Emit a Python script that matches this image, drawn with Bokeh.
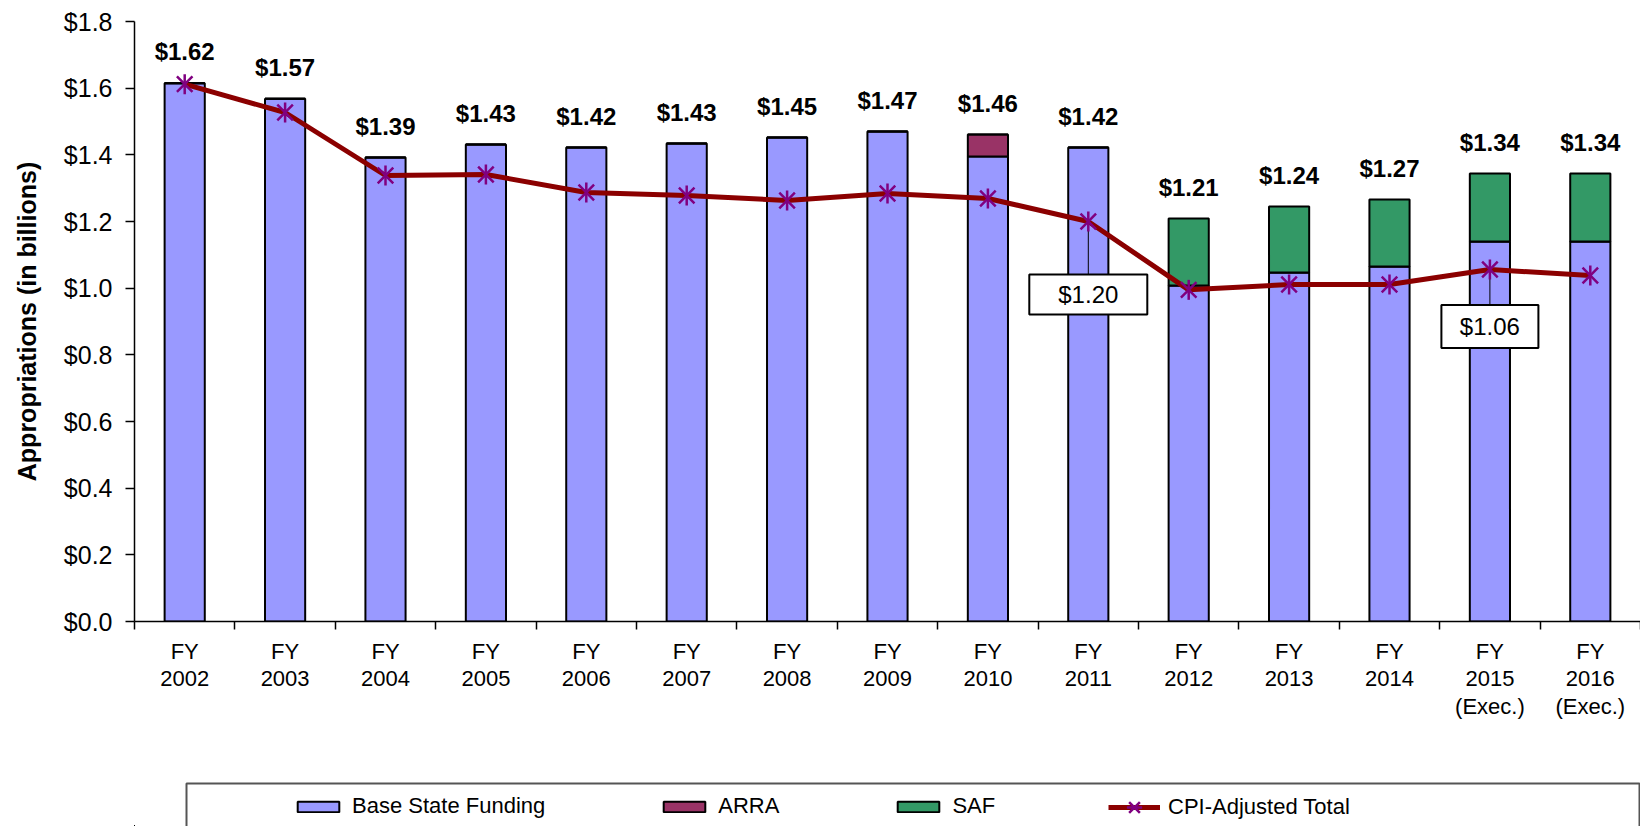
import math
from bokeh.plotting import figure
from bokeh.layouts import column
from bokeh.models import (ColumnDataSource, Range1d, FixedTicker, NumeralTickFormatter,
                          LabelSet, Legend, LegendItem)
from bokeh.core.properties import value
from bokeh.embed import file_html
from bokeh.resources import INLINE

# ---------------- data ----------------
categories = ["FY\n2002", "FY\n2003", "FY\n2004", "FY\n2005", "FY\n2006", "FY\n2007",
              "FY\n2008", "FY\n2009", "FY\n2010", "FY\n2011", "FY\n2012", "FY\n2013",
              "FY\n2014", "FY\n2015\n(Exec.)", "FY\n2016\n(Exec.)"]
base_state = [1.615, 1.568, 1.392, 1.431, 1.422, 1.434, 1.452, 1.470, 1.395, 1.422,
              1.008, 1.047, 1.065, 1.140, 1.140]
arra = [0.0, 0.0, 0.0, 0.0, 0.0, 0.0, 0.0, 0.0, 0.066, 0.0,
        0.0, 0.0, 0.0, 0.0, 0.0]
saf = [0.0, 0.0, 0.0, 0.0, 0.0, 0.0, 0.0, 0.0, 0.0, 0.0,
       0.201, 0.198, 0.201, 0.204, 0.204]
cpi_adjusted = [1.612, 1.527, 1.338, 1.341, 1.287, 1.278, 1.263, 1.284, 1.269, 1.200,
                0.995, 1.011, 1.011, 1.056, 1.038]
total_labels = [1.62, 1.57, 1.39, 1.43, 1.42, 1.43, 1.45, 1.47, 1.46, 1.42,
                1.21, 1.24, 1.27, 1.34, 1.34]
callout_categories = ["FY\n2011", "FY\n2015\n(Exec.)"]
y_ticks = [0.0, 0.2, 0.4, 0.6, 0.8, 1.0, 1.2, 1.4, 1.6, 1.8]
legend_labels = ["Base State Funding", "ARRA", "SAF", "CPI-Adjusted Total"]

# ---------------- styles ----------------
FONT = "Liberation Sans"
BASE_C, ARRA_C, SAF_C = "#9999FF", "#993366", "#339966"
LINE_C, STAR_C = "#8B0000", "#800080"
W = 1640
MAIN_H = 774
LEG_H = 52
FRAME_LEFT = 134
FRAME_TOP = 21
FRAME_H = 600
Y_MAX = 1.8
PX = FRAME_H / Y_MAX  # pixels per data unit

x = list(range(1, len(categories) + 1))
tops = [b + a + s for b, a, s in zip(base_state, arra, saf)]
src = ColumnDataSource(dict(x=x, base=base_state, arra=arra, saf=saf, cpi=cpi_adjusted,
                            top=tops, label=[f"${v:.2f}" for v in total_labels]))

p = figure(width=W, height=MAIN_H,
           x_range=Range1d(0.5, len(categories) + 0.5), y_range=Range1d(0, Y_MAX),
           output_backend="svg", toolbar_location=None,
           min_border_left=FRAME_LEFT, min_border_right=0, min_border_top=FRAME_TOP,
           min_border_bottom=MAIN_H - FRAME_TOP - FRAME_H,
           background_fill_color="white", border_fill_color="white", outline_line_color=None)
p.xgrid.visible = False
p.ygrid.visible = False

# x axis: labels at centres, ticks at category boundaries
xa = p.xaxis[0]
xa.ticker = FixedTicker(ticks=x, minor_ticks=[v - 0.5 for v in x] + [x[-1] + 0.5])
xa.major_label_overrides = {xi: c for xi, c in zip(x, categories)}
xa.major_tick_out = 0
xa.major_tick_in = 0
xa.minor_tick_out = 8
xa.minor_tick_in = 0
xa.minor_tick_line_color = "black"
xa.minor_tick_line_width = 1.5
xa.axis_line_color = "black"
xa.axis_line_width = 1.5
xa.major_label_standoff = 9
xa.major_label_text_font = FONT
xa.major_label_text_font_size = "22px"
xa.major_label_text_color = "black"
xa.major_label_text_line_height = 1.1

ya = p.yaxis[0]
ya.ticker = FixedTicker(ticks=y_ticks, minor_ticks=[])
ya.formatter = NumeralTickFormatter(format="$0.0")
ya.major_tick_out = 9
ya.major_tick_in = 0
ya.minor_tick_out = 0
ya.minor_tick_in = 0
ya.major_tick_line_color = "black"
ya.major_tick_line_width = 1.5
ya.axis_line_color = "black"
ya.axis_line_width = 1.5
ya.major_label_standoff = 13
ya.major_label_text_font = FONT
ya.major_label_text_font_size = "25px"
ya.major_label_text_color = "black"
ya.axis_label = "Appropriations (in billions)"
ya.axis_label_text_font = FONT
ya.axis_label_text_font_size = "25px"
ya.axis_label_text_font_style = "bold"
ya.axis_label_text_color = "black"
ya.axis_label_standoff = 20

# stacked bars
bar_kw = dict(x="x", width=0.4, fill_color=[BASE_C, ARRA_C, SAF_C], line_color="black",
              line_width=2)
p.vbar_stack(["base", "arra", "saf"], source=src, **bar_kw)

# callout leader lines
ci = [categories.index(c) for c in callout_categories]
c_x = [x[i] for i in ci]
c_v = [cpi_adjusted[i] for i in ci]
c_off = [73, 57]           # px below the point (box centre)
c_w = [118, 97]
c_h = [40, 43]
c_y = [v - o / PX for v, o in zip(c_v, c_off)]
p.segment(x0=c_x, y0=c_v, x1=c_x, y1=[y + h / 2 / PX for y, h in zip(c_y, c_h)],
          line_color="black", line_width=1)

# CPI line
line_kw = dict(line_color=LINE_C, line_width=5)
p.line("x", "cpi", source=src, **line_kw)

# callout boxes
p.rect(x=c_x, y=c_y, width=c_w, height=c_h, width_units="screen", height_units="screen",
       fill_color="white", line_color="black", line_width=2)
p.text(x=c_x, y=c_y, text=[f"${v:.2f}" for v in c_v], text_align="center",
       text_baseline="middle", text_font=value(FONT), text_font_size="24px", text_color="black")

# stars (six-armed asterisk: x + vertical bar)
star_x_kw = dict(marker="x", size=22, line_color=STAR_C, line_width=2.5)
star_v_kw = dict(marker="dash", angle=math.pi / 2, size=20, line_color=STAR_C, line_width=2.5)
p.scatter("x", "cpi", source=src, **star_x_kw)
p.scatter("x", "cpi", source=src, **star_v_kw)

# total labels
labels = LabelSet(x="x", y="top", text="label", source=src, text_align="center",
                  text_baseline="alphabetic", y_offset=23, text_font=value(FONT),
                  text_font_size="24px", text_font_style="bold", text_color="black")
p.add_layout(labels)

# ---------------- legend strip ----------------
# frame aligned with the main plot; x data units equal page pixels
lg = figure(width=W, height=LEG_H, x_range=Range1d(FRAME_LEFT, W), y_range=Range1d(0, LEG_H),
            output_backend="svg", toolbar_location=None,
            min_border_left=FRAME_LEFT, min_border_right=0, min_border_top=0, min_border_bottom=0,
            x_axis_location=None, y_axis_location=None,
            background_fill_color="white", border_fill_color="white", outline_line_color=None)
lg.grid.visible = False
lg.extra_x_ranges = {"off": Range1d(40, 60)}
lg.extra_y_ranges = {"off": Range1d(40, 60)}
off = dict(x_range_name="off", y_range_name="off")
# legend-only renderers (their data lie outside this strip)
lbars = lg.vbar_stack(["base", "arra", "saf"], source=src, **off, **bar_kw)
lline = lg.line("x", "cpi", source=src, **off, **line_kw)
ls1 = lg.scatter("x", "cpi", source=src, **off, **star_x_kw)
ls2 = lg.scatter("x", "cpi", source=src, **off, **star_v_kw)
# legend frame (top edge 9px below strip top, bottom edge below the page)
lg.quad(left=186, right=W - 1, top=LEG_H - 9, bottom=-20, fill_color=None,
        line_color="#555555", line_width=2)

leg_kw = dict(orientation="horizontal", padding=0, margin=0, spacing=113, glyph_width=52,
              label_standoff=8, label_text_font=FONT, label_text_font_size="22px",
              label_text_color="black", border_line_color=None, background_fill_alpha=0)
legend = Legend(items=[LegendItem(label=legend_labels[0], renderers=[lbars[0]]),
                       LegendItem(label=legend_labels[1], renderers=[lbars[1]]),
                       LegendItem(label=legend_labels[2], renderers=[lbars[2]])],
                location=(292 - FRAME_LEFT, 7), glyph_height=13, label_height=24, **leg_kw)
legend2 = Legend(items=[LegendItem(label=legend_labels[3], renderers=[lline, ls1, ls2])],
                 location=(1108 - FRAME_LEFT, 0), glyph_height=38, label_height=24, **leg_kw)
lg.add_layout(legend)
lg.add_layout(legend2)

open("out.html", "w").write(file_html(column(p, lg, spacing=0), INLINE))
